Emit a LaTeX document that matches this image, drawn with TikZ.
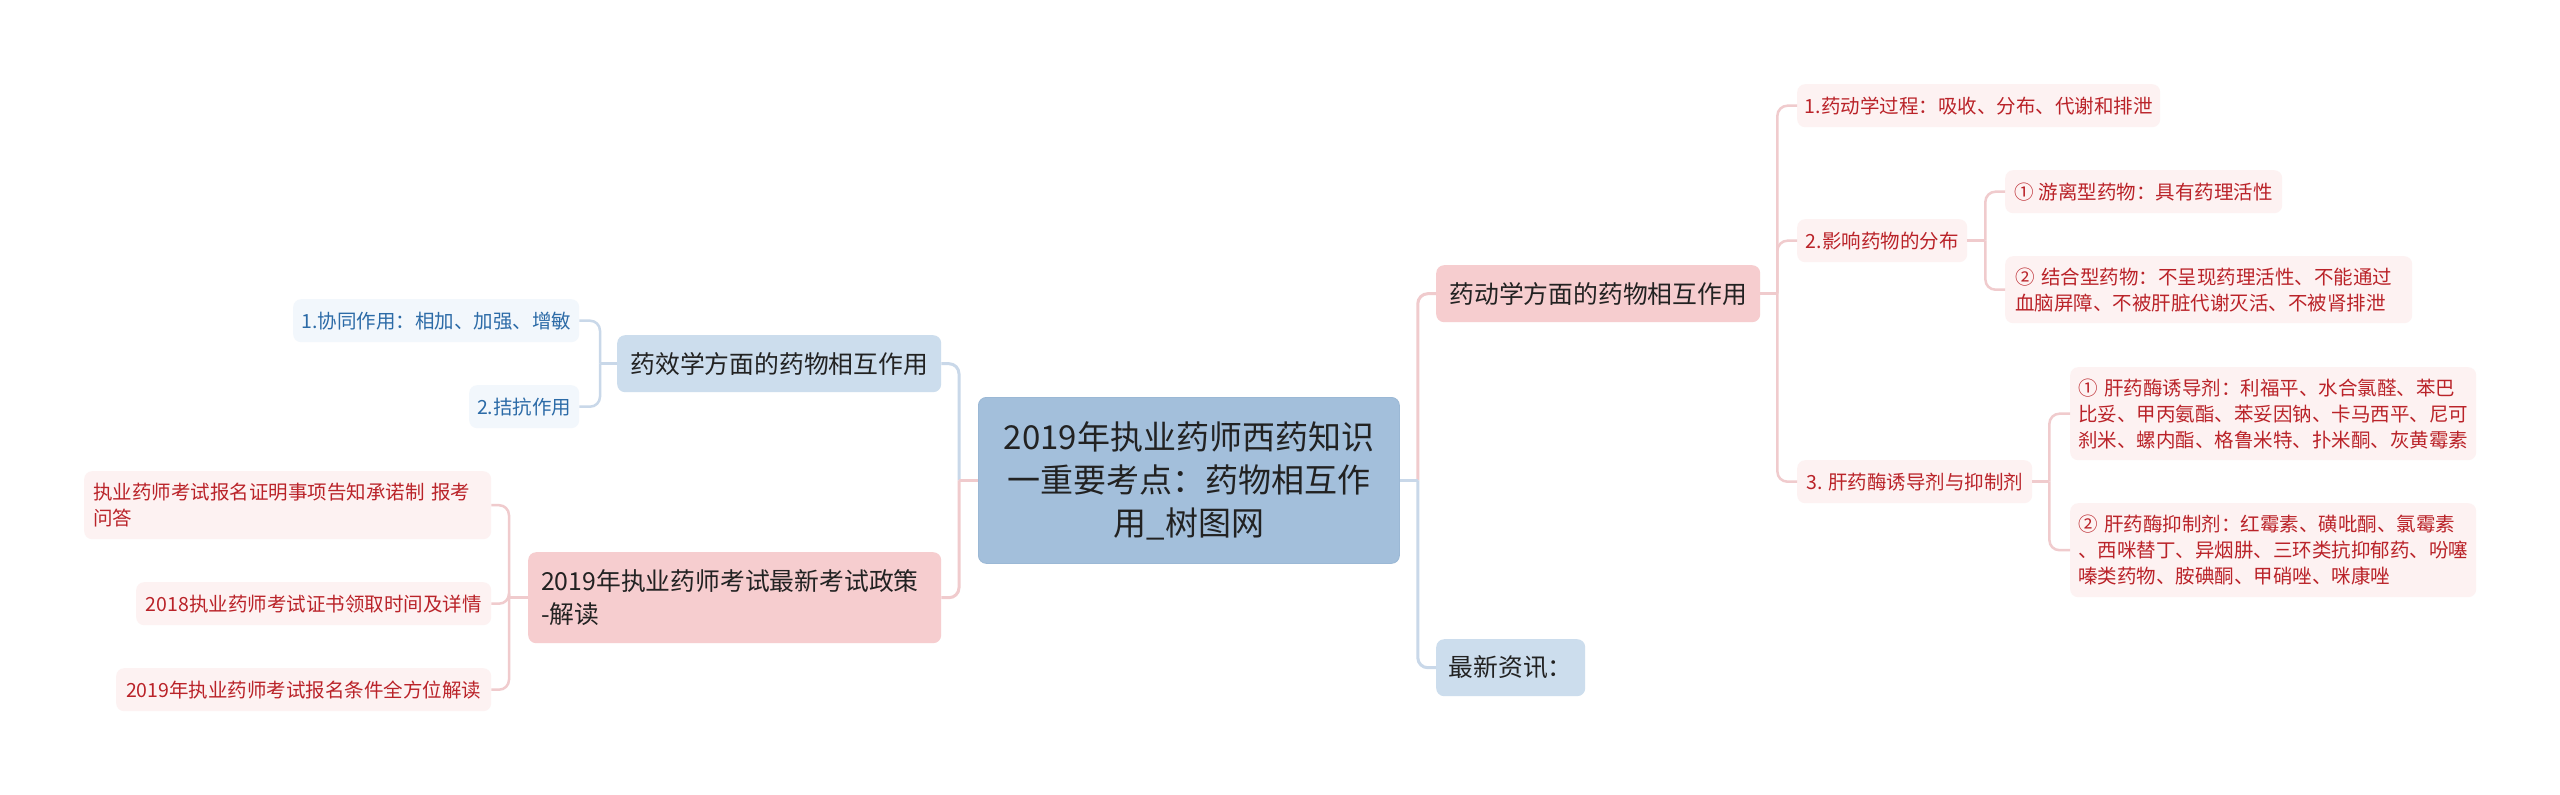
\documentclass[tikz,border=0pt]{standalone}
\usepackage{fontspec}
\setmainfont{Noto Sans CJK SC}
\definecolor{rootfill}{HTML}{A3BFDB}
\definecolor{rootdraw}{HTML}{9BB8D5}
\definecolor{bluefill}{HTML}{CCDDED}
\definecolor{pinkfill}{HTML}{F6CDCF}
\definecolor{lpink}{HTML}{FDF2F2}
\definecolor{lblue}{HTML}{F2F7FC}
\definecolor{redtext}{HTML}{BA2329}
\definecolor{bluetext}{HTML}{2C6BA7}
\definecolor{darktext}{HTML}{222222}
\definecolor{pinkline}{HTML}{F0CBCD}
\definecolor{blueline}{HTML}{C9D8E9}
\tikzset{
  box/.style={rounded corners=8pt, inner sep=0pt, anchor=north west},
  rootbox/.style={box, fill=rootfill, draw=rootdraw, line width=0.8pt, text=darktext,
    font=\fontsize{33}{43}\selectfont, align=center, text width=400pt},
  lonebox/.style={box, text=darktext, font=\fontsize{24.8}{33}\selectfont, align=center},
  lonemulti/.style={box, text=darktext, font=\fontsize{24.8}{33}\selectfont, align=left},
  pinkone/.style={fill=pinkfill},
  blueone/.style={fill=bluefill},
  ltwo/.style={box, font=\fontsize{19.5}{26}\selectfont, align=center},
  ltwomulti/.style={box, font=\fontsize{19.5}{26}\selectfont, align=left},
  redtwo/.style={fill=lpink, text=redtext},
  bluetwo/.style={fill=lblue, text=bluetext},
  pinkL/.style={draw=pinkline, line width=3pt},
  blueL/.style={draw=blueline, line width=3pt},
  pinkS/.style={draw=pinkline, line width=2.5pt},
  blueS/.style={draw=blueline, line width=2.5pt},
  rc/.style={rounded corners=10pt},
}
\begin{document}
\begin{tikzpicture}[x=1pt,y=-1pt]
\useasboundingbox (0,0) rectangle (2560,795);
\fill[white] (0,0) rectangle (2560,795);

% root
\node[rootbox, minimum width=421pt, minimum height=166pt] (root) at (978,397)
  {2019年执业药师西药知识\\一重要考点：药物相互作\\用\_树图网};

% level 1
\node[lonebox, pinkone, minimum width=324pt, minimum height=57pt] (dong) at (1436,265) {药动学方面的药物相互作用};
\node[lonebox, blueone, minimum width=324pt, minimum height=57pt] (xiao) at (617,335) {药效学方面的药物相互作用};
\node[lonemulti, pinkone, text width=387pt, inner xsep=13pt, minimum height=91pt] (zheng) at (528,552)
  {2019年执业药师考试最新考试政策\\-解读};
\node[lonebox, blueone, minimum width=149pt, minimum height=57pt] (zuixin) at (1436,639) {最新资讯：};

% level 2 right
\node[ltwo, redtwo, minimum width=363pt, minimum height=43pt] (d1) at (1797,84) {1.药动学过程：吸收、分布、代谢和排泄};
\node[ltwo, redtwo, minimum width=170pt, minimum height=43pt] (d2) at (1797,219) {2.影响药物的分布};
\node[ltwo, redtwo, minimum width=235pt, minimum height=43pt] (d3) at (1797,460) {3. 肝药酶诱导剂与抑制剂};

% level 3 right
\node[ltwo, redtwo, minimum width=277pt, minimum height=43pt] (d2a) at (2005,170) {① 游离型药物：具有药理活性};
\node[ltwomulti, redtwo, text width=387pt, inner xsep=10pt, minimum height=67pt] (d2b) at (2005,256)
  {② 结合型药物：不呈现药理活性、不能通过\\血脑屏障、不被肝脏代谢灭活、不被肾排泄};
\node[ltwomulti, redtwo, text width=390pt, inner xsep=8pt, minimum height=93pt] (d3a) at (2070,367)
  {① 肝药酶诱导剂：利福平、水合氯醛、苯巴\\比妥、甲丙氨酯、苯妥因钠、卡马西平、尼可\\刹米、螺内酯、格鲁米特、扑米酮、灰黄霉素};
\node[ltwomulti, redtwo, text width=390pt, inner xsep=8pt, minimum height=94pt] (d3b) at (2070,503)
  {② 肝药酶抑制剂：红霉素、磺吡酮、氯霉素\\、西咪替丁、异烟肼、三环类抗抑郁药、吩噻\\嗪类药物、胺碘酮、甲硝唑、咪康唑};

% level 2 left
\node[ltwo, bluetwo, minimum width=286pt, minimum height=43pt] (x1) at (293,299) {1.协同作用：相加、加强、增敏};
\node[ltwo, bluetwo, minimum width=110pt, minimum height=43pt] (x2) at (469,385) {2.拮抗作用};
\node[ltwomulti, redtwo, text width=389pt, inner xsep=9pt, minimum height=68pt] (z1) at (84,471)
  {执业药师考试报名证明事项告知承诺制 报考\\问答};
\node[ltwo, redtwo, minimum width=355pt, minimum height=43pt] (z2) at (136,582) {2018执业药师考试证书领取时间及详情};
\node[ltwo, redtwo, minimum width=375pt, minimum height=43pt] (z3) at (116,668) {2019年执业药师考试报名条件全方位解读};

% connectors root right
\draw[pinkL, rc] ([xshift=18pt]root.east) |- (dong.west);
\draw[blueL, rc] ([xshift=18pt]root.east) |- (zuixin.west);
\draw[blueL] (root.east) -- ([xshift=18pt]root.east);
% connectors root left
\draw[blueL, rc] ([xshift=-19pt]root.west) |- (xiao.east);
\draw[pinkL, rc] ([xshift=-19pt]root.west) |- (zheng.east);
\draw[pinkL] (root.west) -- ([xshift=-19pt]root.west);

% dong children
\draw[pinkS] (dong.east) -- ([xshift=17pt]dong.east);
\draw[pinkS, rc] ([xshift=17pt]dong.east) |- (d1.west);
\draw[pinkS, rc] ([xshift=17pt]dong.east) |- (d2.west);
\draw[pinkS, rc] ([xshift=17pt]dong.east) |- (d3.west);
% d2 children
\draw[pinkS] (d2.east) -- ([xshift=18pt]d2.east);
\draw[pinkS, rc] ([xshift=18pt]d2.east) |- (d2a.west);
\draw[pinkS, rc] ([xshift=18pt]d2.east) |- (d2b.west);
% d3 children
\draw[pinkS] (d3.east) -- ([xshift=17pt]d3.east);
\draw[pinkS, rc] ([xshift=17pt]d3.east) |- (d3a.west);
\draw[pinkS, rc] ([xshift=17pt]d3.east) |- (d3b.west);
% xiao children
\draw[blueS] (xiao.west) -- ([xshift=-17pt]xiao.west);
\draw[blueS, rc] ([xshift=-17pt]xiao.west) |- (x1.east);
\draw[blueS, rc] ([xshift=-17pt]xiao.west) |- (x2.east);
% zheng children
\draw[pinkS] (zheng.west) -- ([xshift=-19pt]zheng.west);
\draw[pinkS, rc] ([xshift=-19pt]zheng.west) |- (z1.east);
\draw[pinkS, rc] ([xshift=-19pt]zheng.west) |- (z2.east);
\draw[pinkS, rc] ([xshift=-19pt]zheng.west) |- (z3.east);
\end{tikzpicture}
\end{document}
